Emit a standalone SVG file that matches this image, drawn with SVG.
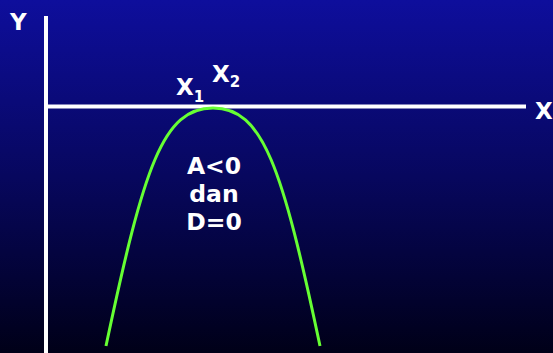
<svg xmlns="http://www.w3.org/2000/svg" width="553" height="353" viewBox="0 0 553 353">
<defs>
<linearGradient id="bg" x1="0" y1="0" x2="0" y2="1">
<stop offset="0" stop-color="#0e0e9c"/>
<stop offset="0.5" stop-color="#07075e"/>
<stop offset="1" stop-color="#000018"/>
</linearGradient>
<style>
.t{font-family:"DejaVu Sans",Verdana,sans-serif;font-weight:bold;fill:#ffffff}
.ax{stroke:#ffffff;stroke-width:4;fill:none}
.cv{stroke:#66ff33;stroke-width:3;fill:none}
</style>
</defs>
<rect width="553" height="353" fill="url(#bg)"/>
<g id="axes">
<line class="ax" x1="46" y1="16" x2="46" y2="353"/>
<line class="ax" x1="46" y1="106.5" x2="526" y2="106.5"/>
</g>
<g id="curve">
<path class="cv" d="M106,346 C144,166 163,108 213,108 C263,108 282,166 320,346"/>
</g>
<g id="labels">
<text class="t" x="10" y="30" font-size="23">Y</text>
<text class="t" x="535" y="119" font-size="23">X</text>
<text class="t" x="176" y="95" font-size="23">X<tspan font-size="15" dy="7">1</tspan></text>
<text class="t" x="212" y="82" font-size="23">X<tspan font-size="15" dy="5">2</tspan></text>
<text class="t" x="214" y="174" font-size="23.5" text-anchor="middle">A&lt;0</text>
<text class="t" x="214" y="202" font-size="23.5" text-anchor="middle">dan</text>
<text class="t" x="214" y="230" font-size="23.5" text-anchor="middle">D=0</text>
</g>
</svg>
